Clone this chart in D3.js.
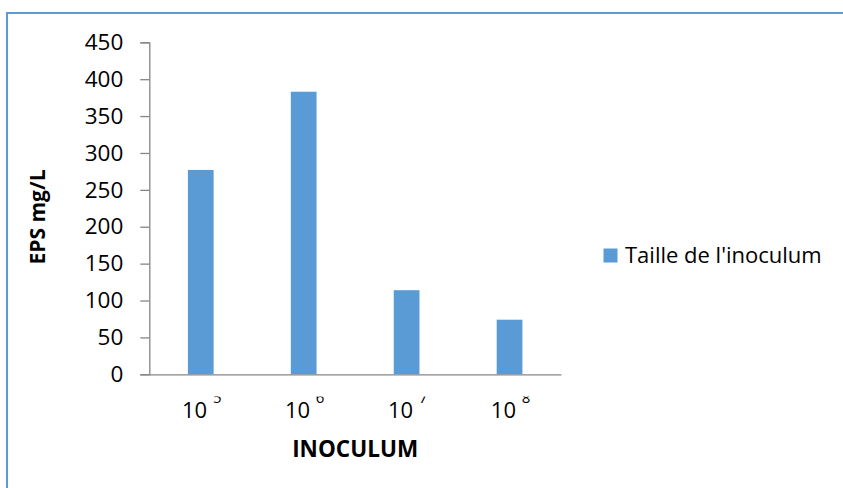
<!DOCTYPE html>
<html>
<head>
<meta charset="utf-8">
<script src="https://cdn.jsdelivr.net/npm/d3@7"></script>
<style>
  html, body { margin: 0; padding: 0; background: #fff; }
  svg { display: block; }
  text { font-family: "Open Sans", "Liberation Sans", sans-serif; fill: #000; }
</style>
</head>
<body>
<svg id="chart" width="843" height="488"></svg>
<script>
const categories = ["10", "10", "10", "10"];
const exponents = ["5", "6", "7", "8"];
const values = [277, 383, 114, 74];
const yTicks = [0, 50, 100, 150, 200, 250, 300, 350, 400, 450];
const seriesName = "Taille de l'inoculum";
const xTitle = "INOCULUM";
const yTitle = "EPS mg/L";

const svg = d3.select("#chart");
const W = 843, H = 488;
const plot = { left: 149.3, right: 561, top: 42.3, bottom: 374.3 };
const barColor = "#5b9bd5";
const axisColor = "#868686";

// frame
svg.append("rect")
  .attr("x", 7).attr("y", 13)
  .attr("width", W + 10).attr("height", H + 10)
  .attr("fill", "none").attr("stroke", "#5b9bd5").attr("stroke-width", 2);

const idx = categories.map((d, i) => i);
const x = d3.scaleBand().domain(idx).range([plot.left, plot.right]).padding(0);
const y = d3.scaleLinear().domain([0, 450]).range([plot.bottom, plot.top]);

// bars
const bw = x.bandwidth() * 0.25;
svg.append("g").selectAll("rect").data(values).join("rect")
  .attr("x", (d, i) => x(i) + x.bandwidth() / 2 - bw / 2)
  .attr("y", d => y(d))
  .attr("width", bw)
  .attr("height", d => y(0) - y(d))
  .attr("fill", barColor);

// y axis
const yAxis = d3.axisLeft(y).tickValues(yTicks).tickSize(9).tickPadding(17).tickFormat(d3.format("d"));
const gy = svg.append("g").attr("transform", `translate(${plot.left},0)`).call(yAxis);
gy.select(".domain").attr("stroke", axisColor).attr("stroke-width", 1.3);
gy.selectAll(".tick line").attr("stroke", axisColor).attr("stroke-width", 1.3);
gy.selectAll(".tick text").attr("font-size", 22.5).attr("font-family", "Open Sans").attr("fill", "#000");

// x axis baseline
const xAxis = d3.axisBottom(x).tickSize(0).tickFormat(() => "");
const gx = svg.append("g").attr("transform", `translate(0,${plot.bottom})`).call(xAxis);
gx.select(".domain").attr("stroke", axisColor).attr("stroke-width", 1.3);

// x labels, superscripts clipped at top like the source
svg.append("clipPath").attr("id", "xlabclip")
  .append("rect").attr("x", plot.left - 40).attr("y", 396.5).attr("width", plot.right - plot.left + 80).attr("height", 40);
const xl = svg.append("g").attr("clip-path", "url(#xlabclip)");
categories.forEach((c, i) => {
  const t = xl.append("text")
    .attr("x", x(i) + x.bandwidth() / 2 + 1)
    .attr("y", 417.7)
    .attr("text-anchor", "middle")
    .attr("font-size", 22);
  t.append("tspan").text(c + " ");
  t.append("tspan").attr("font-size", 15).attr("dy", -15).text(exponents[i]);
});

// axis titles
svg.append("text")
  .attr("x", (plot.left + plot.right) / 2)
  .attr("y", 456.5)
  .attr("text-anchor", "middle")
  .attr("font-size", 22.5)
  .attr("font-weight", "bold")
  .text(xTitle);

svg.append("text")
  .attr("transform", `translate(45,217) rotate(-90)`)
  .attr("text-anchor", "middle")
  .attr("font-size", 21)
  .attr("font-weight", "bold")
  .text(yTitle);

// legend
svg.append("rect").attr("x", 603.5).attr("y", 248.5).attr("width", 14).attr("height", 14).attr("fill", barColor);
svg.append("text").attr("x", 625).attr("y", 263.3).attr("font-size", 22).text(seriesName);
</script>
</body>
</html>
